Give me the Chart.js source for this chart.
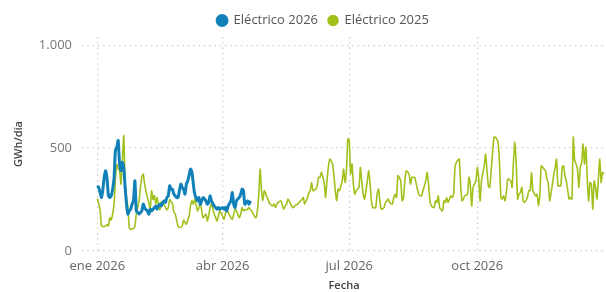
<!DOCTYPE html>
<html>
<head>
<meta charset="utf-8">
<script src="https://cdn.jsdelivr.net/npm/chart.js@4.4.1/dist/chart.umd.min.js"></script>
<style>
  html, body { margin: 0; padding: 0; background: #fff; }
  #wrap { width: 606px; height: 292px; }
</style>
</head>
<body>
<div id="wrap"><canvas id="grafico"></canvas></div>
<script>
// dias desde el 1 de enero (el año 2025 se dibuja sobre el calendario 2026)
var dias2026 = [0,1,2,3,4,5,6,7,8,9,10,11,12,13,14,15,16,17,18,19,20,21,22,23,24,25,26,27,28,29,30,
  31,32,33,34,35,36,37,38,39,40,41,42,43,44,45,46,47,48,49,50,51,52,53,54,55,56,57,58,59,60,
  61,62,63,64,65,66,67,68,69,70,72,73,74,75,76,78,79,80,81,82,84,85,86,87,88,90,91,92,93,94,
  96,97,98,99,100,102,103,104,105,106,108,109,110];
var valores2026 = [317,309,285,260,300,360,390,350,268,260,268,300,350,488,504,537,423,390,431,406,309,228,179,195,203,228,244,341,195,187,179,
  187,195,228,211,200,195,179,203,195,203,210,219,203,219,228,219,235,244,236,260,268,317,300,300,276,268,260,260,293,325,
  309,300,276,325,341,370,398,382,325,276,244,260,227,244,260,244,227,236,268,244,219,211,203,211,203,211,203,211,195,219,
  244,284,227,211,244,260,276,301,293,227,244,227,244];

var dias2025 = [0,2,3,5,7,8,9,10,12,13,14,15,16,17,18,19,20,21,22,23,24,25,26,27,28,30,31,32,33,34,35,36,37,38,39,40,
  41,42,43,44,45,46,47,48,49,50,51,52,53,54,55,56,57,58,59,60,61,62,63,64,65,66,67,68,69,70,72,73,74,75,76,78,79,80,
  81,82,84,85,86,87,88,90,91,92,93,94,96,97,98,99,100,102,103,104,105,106,108,109,110,111,112,114,115,116,117,118,119,120,
  122,123,124,126,127,128,129,130,132,133,134,135,136,137,139,140,141,142,144,145,146,147,148,149,151,152,153,154,155,
  157,158,159,160,161,163,164,165,166,167,169,170,171,172,173,174,175,176,177,178,179,180,181,182,183,184,185,186,188,
  189,190,191,192,194,195,196,197,198,200,201,202,203,204,206,207,208,209,210,212,213,214,215,216,218,219,220,221,222,
  224,225,226,227,228,230,231,232,233,234,236,237,238,239,240,242,243,244,245,246,248,249,250,251,252,254,255,256,257,
  258,260,261,262,263,264,266,267,268,269,270,272,273,274,275,276,278,279,280,281,282,283,285,286,287,288,289,290,291,
  292,293,294,295,297,298,299,300,301,302,303,304,305,306,307,309,310,311,312,313,315,316,317,318,319,321,322,323,324,
  325,327,328,329,330,331,333,334,335,336,337,339,340,341,342,343,344,345,346,347,348,349,350,351,352,353,354,355,356,
  357,358,359,360,361,362,363,364];
var valores2025 = [255,200,122,118,128,122,162,150,228,350,420,400,390,325,440,561,325,260,211,114,105,108,110,120,179,244,309,358,374,325,290,260,236,200,293,250,
  270,230,260,220,200,240,230,225,210,200,211,250,240,230,190,180,150,120,114,116,120,150,140,130,150,170,220,244,228,252,195,211,236,195,162,179,146,170,
  211,228,179,162,146,170,195,170,154,179,211,187,162,154,179,203,195,162,179,211,195,200,203,211,200,195,179,162,195,276,398,293,244,293,
  260,245,228,219,228,211,228,236,244,220,203,219,228,252,228,215,211,220,228,236,244,250,260,228,260,284,293,333,293,
  301,317,358,358,382,333,260,341,406,447,423,366,293,244,301,293,317,341,398,333,390,545,537,374,423,325,276,293,309,
  406,341,276,252,341,390,325,244,211,211,276,301,244,203,211,236,244,252,236,228,260,276,260,366,341,244,260,341,390,
  374,325,358,358,358,301,276,268,268,293,341,382,325,244,219,211,244,236,268,211,195,244,236,260,236,268,260,276,406,
  431,447,325,244,252,268,276,358,325,219,309,341,406,358,244,341,414,471,390,317,309,390,553,553,545,528,423,260,252,
  268,244,293,350,341,309,431,528,423,252,276,284,309,244,236,260,293,293,382,293,268,276,219,276,414,398,390,350,333,
  244,325,374,406,447,317,317,406,414,366,341,252,260,252,553,439,423,398,309,406,431,520,423,504,358,244,333,325,203,
  341,309,252,350,447,333,382,374];

var tickDias = [0, 90, 181, 273];
var tickTextos = ['ene 2026', 'abr 2026', 'jul 2026', 'oct 2026'];
var tickValores = [0, 500, 1000];

function puntos(dias, valores) {
  return dias.map(function (d, i) { return { x: d, y: valores[i] }; });
}

// desplaza la leyenda para que quede centrada como en el original
var moverLeyenda = {
  id: 'moverLeyenda',
  afterLayout: function (chart) {
    chart.legend.left = 40;
  }
};

var fuente = "'Open Sans', 'Noto Sans', sans-serif";

var chart = new Chart(document.getElementById('grafico').getContext('2d'), {
  type: 'line',
  data: {
    datasets: [
      {
        label: 'Eléctrico 2026',
        data: puntos(dias2026, valores2026),
        borderColor: '#1180b8',
        backgroundColor: '#1180b8',
        borderWidth: 3,
        pointRadius: 0,
        tension: 0.2
      },
      {
        label: 'Eléctrico 2025',
        data: puntos(dias2025, valores2025),
        borderColor: '#a0c11c',
        backgroundColor: '#a0c11c',
        borderWidth: 1.6,
        pointRadius: 0,
        tension: 0.2
      }
    ]
  },
  options: {
    responsive: true,
    maintainAspectRatio: false,
    animation: false,
    layout: { padding: { top: 4, left: 0, right: 0, bottom: 0 } },
    plugins: {
      legend: {
        position: 'top',
        labels: {
          usePointStyle: true,
          pointStyle: 'circle',
          boxWidth: 10,
          boxHeight: 7,
          padding: 10,
          color: '#555',
          font: { family: fuente, size: 13 }
        }
      },
      tooltip: { enabled: false }
    },
    scales: {
      x: {
        type: 'linear',
        min: -11,
        max: 365.5,
        afterBuildTicks: function (s) {
          s.ticks = tickDias.map(function (v) { return { value: v }; });
        },
        afterFit: function (s) { s.height = 41; },
        ticks: {
          color: '#666',
          padding: 7,
          maxRotation: 0,
          font: { family: fuente, size: 13 },
          callback: function (v) {
            var i = tickDias.indexOf(v);
            return i >= 0 ? tickTextos[i] : '';
          }
        },
        grid: { color: '#c8c8c8', lineWidth: 1.3, drawTicks: false },
        border: { display: false, dash: [1.3, 4] },
        title: {
          display: true,
          text: 'Fecha',
          color: '#444',
          padding: 0,
          font: { family: fuente, size: 11, weight: '600' }
        }
      },
      y: {
        min: 0,
        max: 1040,
        afterBuildTicks: function (s) {
          s.ticks = tickValores.map(function (v) { return { value: v }; });
        },
        afterFit: function (s) { s.width = 82; },
        ticks: {
          color: '#777',
          padding: 10,
          font: { family: fuente, size: 13 },
          callback: function (v) { return v >= 1000 ? '1.000' : String(v); }
        },
        grid: { color: '#c8c8c8', lineWidth: 1.3, drawTicks: false },
        border: { display: false, dash: [1.3, 4] },
        title: {
          display: true,
          text: 'GWh/día',
          color: '#444',
          padding: { top: 12, bottom: 0 },
          font: { family: fuente, size: 11, weight: '600' }
        }
      }
    }
  },
  plugins: [moverLeyenda]
});
</script>
</body>
</html>
